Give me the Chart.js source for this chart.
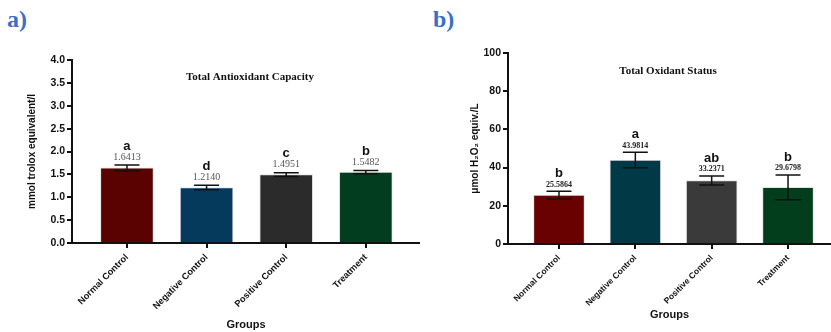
<!DOCTYPE html>
<html>
<head>
<meta charset="utf-8">
<script src="https://cdn.jsdelivr.net/npm/chart.js@4.4.1/dist/chart.umd.min.js"></script>
<style>
  body { margin: 0; background: #fff; }
  #wrap { position: relative; width: 831px; height: 332px; overflow: hidden; }
  canvas { position: absolute; top: 0; }
  .panel { position: absolute; top: 6px; font: bold 24px "Liberation Serif", serif; color: #3a6fc6; }
</style>
</head>
<body>
<div id="wrap">
  <div class="panel" style="left:7px">a)</div>
  <div class="panel" style="left:433px">b)</div>
  <canvas id="tac" width="420" height="332" style="left:0"></canvas>
  <canvas id="tos" width="411" height="332" style="left:420px"></canvas>
</div>
<script>
const groups = ["Normal Control", "Negative Control", "Positive Control", "Treatment"];

// Total Antioxidant Capacity
const tacValues = [1.6413, 1.2140, 1.4951, 1.5482];
const tacErrors = [0.065, 0.05, 0.04, 0.035];
const tacLetters = ["a", "d", "c", "b"];
const tacColors = ["#5a0101", "#053a5d", "#2b2b2b", "#033d1f"];
const tacTicks = [0, 0.5, 1, 1.5, 2, 2.5, 3, 3.5, 4];

// Total Oxidant Status
const tosValues = [25.5864, 43.9814, 33.2371, 29.6798];
const tosErrors = [2.0, 4.1, 2.4, 6.5];
const tosLetters = ["b", "a", "ab", "b"];
const tosColors = ["#6a0101", "#013947", "#3a3a3a", "#023d1c"];
const tosTicks = [0, 20, 40, 60, 80, 100];

const SANS = "'Liberation Sans', Arial, sans-serif";
const SERIF = "'Liberation Serif', 'Times New Roman', serif";

/* error bars, letters, values and inner title */
const annotate = {
  id: "annotate",
  afterDatasetsDraw(chart, args, o) {
    const { ctx, scales: { x, y } } = chart;
    ctx.save();
    o.values.forEach((v, i) => {
      const cx = x.getPixelForValue(i);
      const top = y.getPixelForValue(v + o.errors[i]);
      const bot = y.getPixelForValue(v - o.errors[i]);
      ctx.strokeStyle = "#111";
      ctx.lineWidth = 1.5;
      ctx.beginPath();
      ctx.moveTo(cx, top); ctx.lineTo(cx, bot);
      ctx.moveTo(cx - 12.5, top); ctx.lineTo(cx + 12.5, top);
      ctx.moveTo(cx - 12.5, bot); ctx.lineTo(cx + 12.5, bot);
      ctx.stroke();

      ctx.textAlign = "center";
      ctx.textBaseline = "middle";
      ctx.fillStyle = o.valueColor;
      ctx.font = o.valueFont;
      ctx.fillText(o.labels[i], cx, top - o.valueGap);
      ctx.fillStyle = "#111";
      ctx.font = "bold 13px " + SANS;
      ctx.fillText(o.letters[i], cx, top - o.letterGap);
    });
    ctx.font = "bold 11px " + SERIF;
    ctx.fillStyle = "#111";
    ctx.textAlign = "center";
    ctx.fillText(o.title, o.titleX, o.titleY);
    ctx.restore();
  }
};

function makeChart(id, cfg) {
  const axisGrid = { drawOnChartArea: false, drawTicks: true, tickLength: 5, color: "#111", lineWidth: 2 };
  return new Chart(document.getElementById(id), {
    type: "bar",
    data: {
      datasets: [{
        data: cfg.values.map((v, i) => ({ x: i, y: v })),
        backgroundColor: cfg.colors,
        borderColor: "rgba(215,215,215,0.7)",
        borderWidth: 1,
        barThickness: cfg.barWidth
      }]
    },
    options: {
      responsive: false,
      animation: false,
      layout: { padding: { top: cfg.top, left: 0, right: 0, bottom: 0 } },
      plugins: {
        legend: { display: false },
        tooltip: { enabled: false },
        annotate: {
          values: cfg.values, errors: cfg.errors, letters: cfg.letters,
          labels: cfg.values.map(v => v.toFixed(4)),
          valueFont: cfg.valueFont, valueColor: cfg.valueColor,
          valueGap: cfg.valueGap, letterGap: cfg.letterGap,
          title: cfg.title, titleX: cfg.titleX, titleY: cfg.titleY
        }
      },
      scales: {
        x: {
          type: "linear",
          offset: false,
          min: cfg.xMin, max: cfg.xMax,
          afterBuildTicks: s => { s.ticks = groups.map((g, i) => ({ value: i })); },
          afterFit: s => { s.height = cfg.xHeight; },
          grid: Object.assign({ offset: false }, axisGrid),
          border: { display: true, color: "#111", width: 2 },
          ticks: {
            autoSkip: false, minRotation: 45, maxRotation: 45, padding: 4,
            color: "#111", font: { family: SANS, size: cfg.xFont, weight: "bold" },
            callback: v => groups[v]
          },
          title: {
            display: true, text: "Groups", color: "#111",
            font: { family: SANS, size: 11, weight: "bold" },
            padding: { top: 0, bottom: cfg.groupsPad }
          }
        },
        y: {
          min: 0, max: cfg.yMax,
          afterBuildTicks: s => { s.ticks = cfg.ticks.map(v => ({ value: v })); },
          afterFit: s => { s.width = cfg.yWidth; },
          grid: axisGrid,
          border: { display: true, color: "#111", width: 2 },
          ticks: {
            padding: 2, color: "#111",
            font: { family: SANS, size: cfg.yFont, weight: "bold" },
            callback: v => cfg.yFmt(v)
          },
          title: {
            display: true, text: cfg.yTitle, color: "#111",
            font: { family: SANS, size: 10, weight: "bold" },
            padding: { top: cfg.yTitlePad, bottom: 0 }
          }
        }
      }
    },
    plugins: [annotate]
  });
}

makeChart("tac", {
  values: tacValues, errors: tacErrors, letters: tacLetters, colors: tacColors, ticks: tacTicks,
  barWidth: 53, top: 60, xMin: -0.69, xMax: 3.68, xHeight: 89, yWidth: 72, yMax: 4,
  xFont: 9.2, yFont: 10.5,
  yFmt: v => v.toFixed(1), yTitle: "mmol trolox equivalent/l", yTitlePad: 26, groupsPad: 0,
  valueFont: "10px " + SERIF, valueColor: "#555", valueGap: 8, letterGap: 19,
  title: "Total Antioxidant Capacity", titleX: 250, titleY: 77
});

makeChart("tos", {
  values: tosValues, errors: tosErrors, letters: tosLetters, colors: tosColors, ticks: tosTicks,
  barWidth: 51, top: 53, xMin: -0.668, xMax: 3.563, xHeight: 88, yWidth: 88, yMax: 100,
  xFont: 8.5, yFont: 10.5,
  yFmt: v => String(v), yTitle: "μmol H₂O₂ equiv./L", yTitlePad: 49, groupsPad: 10,
  valueFont: "bold 8px " + SERIF, valueColor: "#222", valueGap: 6.5, letterGap: 17.5,
  title: "Total Oxidant Status", titleX: 248, titleY: 71
});
</script>
</body>
</html>
